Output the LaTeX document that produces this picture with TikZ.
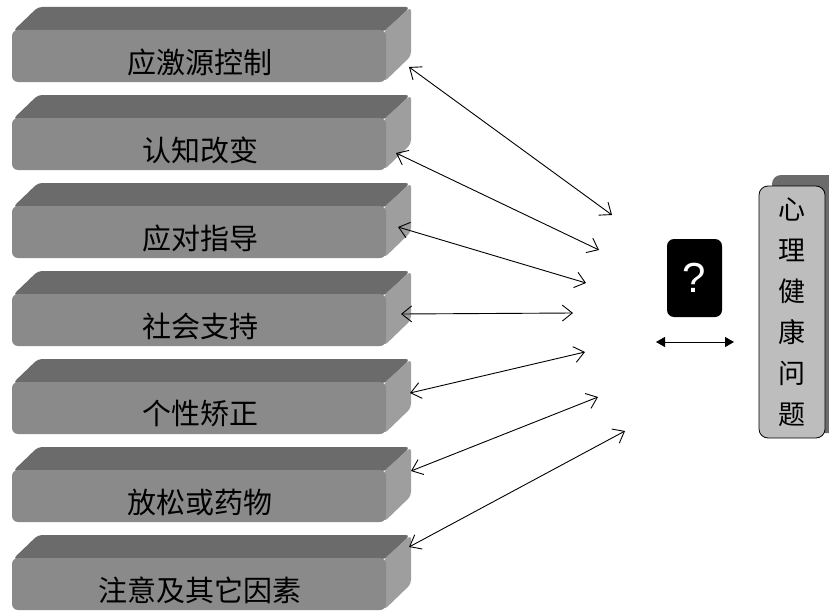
\documentclass[tikz,border=0pt]{standalone}
\usepackage{fontspec}
\newfontfamily\cjk{Noto Sans CJK SC}
\newfontfamily\qfont{Liberation Sans}
\usetikzlibrary{arrows.meta}
\tikzstyle{link} = [line width=0.9pt, {Straight Barb[length=10pt,width=16pt]}-{Straight Barb[length=10pt,width=16pt]}]
\tikzstyle{swap} = [line width=0.9pt, {Triangle[length=9pt,width=10pt]}-{Triangle[length=9pt,width=10pt]}]
\tikzset{boxtop/.style={fill=box top, rounded corners=4pt},
    boxside/.style={fill=box side, rounded corners=4pt},
    boxfront/.style={fill=box front, rounded corners=6pt},
    boxtext/.style={font=\cjk\fontsize{29}{29}\selectfont, inner sep=0pt},
    qbox/.style={fill=black, text=white, rounded corners=7pt, minimum width=55pt,
        minimum height=78pt, font=\qfont\fontsize{42}{42}\selectfont},
    healthbox/.style={fill=health area, draw=black, line width=0.8pt, rounded corners=9pt,
        minimum width=66pt, minimum height=252pt, align=center,
        font=\cjk\fontsize{27}{41}\selectfont},
    healthshadow/.style={fill=box top, rounded corners=9pt, minimum width=66pt,
        minimum height=258pt}}

\begin{document}
\begin{tikzpicture}[x=1pt, y=-1pt]
    \useasboundingbox (0,0) rectangle (829,610);
    % Definition of colours
    \colorlet{box top}{black!58}
    \colorlet{box front}{black!46}
    \colorlet{box side}{black!38}
    \colorlet{health area}{black!26}
    %
    % the seven bars on the left
    \foreach \name/\txt [count=\i from 0] in {stress/应激源控制, cognition/认知改变,
        coping/应对指导, support/社会支持, personality/个性矫正,
        relax/放松或药物, other/注意及其它因素}{
    \begin{scope}[yshift=-88*\i pt]
        \fill[boxtop] (13,31) -- (38,7) -- (410,7) -- (386,31) -- cycle;
        \fill[boxside] (384,31) -- (411,7) -- (411,56) -- (384,82) -- cycle;
        \fill[boxfront] (12,30) rectangle (386,82);
        \node[boxtext] (\name) at (200,62) {\txt};
    \end{scope}
    }
    %
    % arrows into the middle
    \foreach \name/\ax/\ay/\bx/\by in {stress/409/67/612/215, cognition/396/153/599/250,
        coping/398/227/586/283, support/401/314/573/313, personality/410/393/585/352,
        relax/411/471/598/397, other/409/547/625/431}{
        \coordinate (\name-a) at (\ax,\ay);
        \coordinate (\name-b) at (\bx,\by);
        \draw[link] (\name-a) -- (\name-b);
    }
    %
    \node[qbox] (question) at (694.5,278) {?};
    \coordinate (swap-a) at (656,342);
    \coordinate (swap-b) at (734,342);
    \draw[swap] (swap-a) -- (swap-b);
    %
    \node[healthshadow] (health-shadow) at (805,304) {};
    \node[healthbox] (health) at (792,312) {心\\理\\健\\康\\问\\题};
\end{tikzpicture}
\end{document}
